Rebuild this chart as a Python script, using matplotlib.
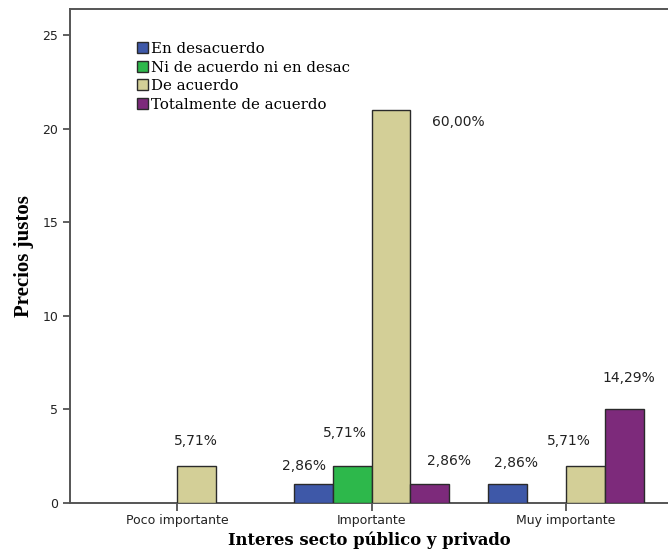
import matplotlib
matplotlib.use("Agg")
import matplotlib.pyplot as plt
import numpy as np
from matplotlib.transforms import offset_copy
from matplotlib.patches import Patch

categories = ["Poco importante", "Importante", "Muy importante"]
series_names = ["En desacuerdo", "Ni de acuerdo ni en desac", "De acuerdo", "Totalmente de acuerdo"]
counts = {
    "En desacuerdo": [0, 1, 1],
    "Ni de acuerdo ni en desac": [0, 2, 0],
    "De acuerdo": [2, 21, 2],
    "Totalmente de acuerdo": [0, 1, 5],
}
pct_labels = {
    "En desacuerdo": [None, "2,86%", "2,86%"],
    "Ni de acuerdo ni en desac": [None, "5,71%", None],
    "De acuerdo": ["5,71%", "60,00%", "5,71%"],
    "Totalmente de acuerdo": [None, "2,86%", "14,29%"],
}
# label offsets (pixels) relative to bar top centre
label_offsets = {
    "En desacuerdo": [None, (-9, 18), (8, 21)],
    "Ni de acuerdo ni en desac": [None, (-7, 33), None],
    "De acuerdo": [(-1, 25), (67, -12), (-17, 25)],
    "Totalmente de acuerdo": [None, (19, 23), (4, 31)],
}
colors = ["#3E58A8", "#2DB84B", "#D3CF97", "#7D2A7B"]

fig = plt.figure(figsize=(6.68, 5.57), dpi=100)
ax = fig.add_axes([70/668, 54/557, 1 - 70/668, (503-9)/557])

x = np.arange(len(categories))
w = 0.2
for i, name in enumerate(series_names):
    vals = counts[name]
    xs = x + (i - 1.5) * w
    for j, v in enumerate(vals):
        if v > 0:
            ax.bar(xs[j], v, width=w, color=colors[i], edgecolor="#2a2a2a", linewidth=1.0, zorder=3)
        lab = pct_labels[name][j]
        if lab:
            dx, dy = label_offsets[name][j]
            tr = offset_copy(ax.transData, fig=fig, x=dx, y=dy, units="dots")
            ax.text(xs[j], v, lab, transform=tr, ha="center", va="center",
                    fontsize=10, color="#222222", family="DejaVu Sans")

ax.set_xlim(-0.55, 2.524)
ax.set_ylim(0, 26.39)
ax.set_yticks([0, 5, 10, 15, 20, 25])
ax.set_xticks(x)
ax.set_xticklabels(categories, fontsize=9, family="DejaVu Sans", color="#222222")
ax.tick_params(axis="y", labelsize=9, length=5, width=1.2, color="#444444", labelcolor="#222222")
ax.tick_params(axis="x", length=6, width=1.2, color="#444444", pad=2)
for s in ["left", "bottom", "top"]:
    ax.spines[s].set_color("#555555")
    ax.spines[s].set_linewidth(1.4)
ax.spines["right"].set_visible(False)

ax.set_ylabel("Precios justos", family="Liberation Serif", fontweight="bold", fontsize=15, labelpad=6)
ax.set_xlabel("Interes secto público y privado", family="DejaVu Serif", fontweight="bold", fontsize=11.8, labelpad=3)

handles = [Patch(facecolor=c, edgecolor="#2a2a2a", linewidth=1.0) for c in colors]
leg = ax.legend(handles, series_names, loc="upper left", bbox_to_anchor=(61/598, 0.945),
                frameon=False, prop={"family": "DejaVu Serif", "size": 10.8},
                handlelength=0.75, handleheight=0.75, handletextpad=0.2, labelspacing=0.3,
                borderaxespad=0)

fig.savefig("out.png", dpi=100)
